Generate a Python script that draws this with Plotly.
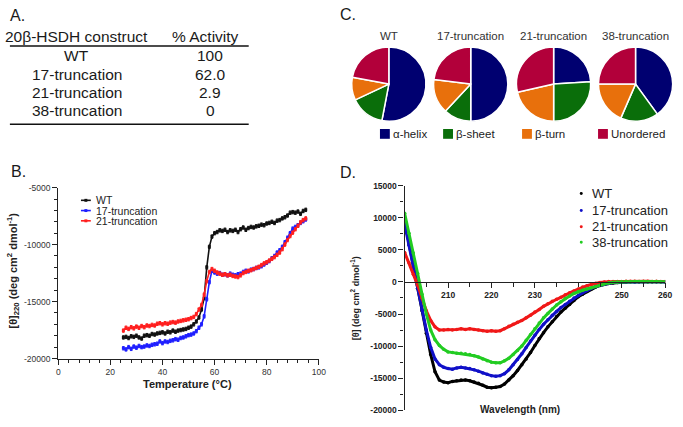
import plotly.graph_objects as go

W, H = 683, 427
FONT = "Liberation Sans, Arial, sans-serif"


def px(x):
    return x / W


def py(y):
    return 1 - y / H


# ---------------- Panel A: activity table ----------------
table_header = ["20β-HSDH construct", "% Activity"]
constructs = ["WT", "17-truncation", "21-truncation", "38-truncation"]
activity = ["100", "62.0", "2.9", "0"]

# ---------------- Panel B: thermal melt at 220 nm ----------------
temp_c = list(range(25, 96))
wt_melt = [-18150, -18100, -18200, -18050, -18100, -18000, -18150, -18250, -18000, -17950,
           -18000, -17850, -17900, -17800, -17750, -17700, -17800, -17650, -17700, -17550,
           -17650, -17550, -17500, -17450, -17400, -17300, -17200, -17000, -16750, -16400,
           -15700, -14700, -12000, -10200, -9300, -9000, -8900, -8750, -8800, -8700,
           -8900, -8750, -8800, -8700, -8900, -8650, -8500, -8700, -8550, -8450,
           -8500, -8400, -8350, -8250, -8300, -8150, -8100, -8000, -8100, -7900,
           -7850, -7700, -7600, -7450, -7200, -7150, -7200, -7100, -7300, -7050,
           -6950]
t17_melt = [-19100, -19200, -19000, -19150, -18950, -19050, -18900, -19000, -18950, -18850,
            -18900, -18800, -18750, -18700, -18500, -18650, -18500, -18550, -18450, -18400,
            -18300, -18350, -18200, -18150, -18050, -17950, -17900, -17800, -17600, -17300,
            -17000, -16300, -14800, -13300, -12300, -12450, -12550, -12500, -12650, -12600,
            -12700, -12550, -12650, -12700, -12600, -12550, -12400, -12300, -12350, -12200,
            -12150, -12050, -12000, -11900, -11750, -11600, -11450, -11200, -11000, -10700,
            -10500, -10200, -9800, -9400, -9000, -8600, -8450, -8300, -8100, -7950,
            -7800]
t21_melt = [-17550, -17300, -17400, -17250, -17350, -17200, -17300, -17150, -17250, -17100,
            -17150, -17050, -17100, -16950, -16900, -17000, -16900, -16950, -16850, -16800,
            -16850, -16750, -16700, -16650, -16600, -16550, -16450, -16350, -16100, -15700,
            -15300, -14400, -13200, -12400, -12150, -12300, -12450, -12550, -12650, -12600,
            -12700, -12650, -12750, -12800, -12850, -12700, -12500, -12400, -12300, -12250,
            -12150, -12050, -11950, -11800, -11650, -11550, -11400, -11250, -11100, -10900,
            -10700, -10400, -10000, -9600, -9250, -8950, -8650, -8350, -8050, -7850,
            -7700]
b_ticks_x = [0, 20, 40, 60, 80, 100]
b_ticks_y = [-20000, -15000, -10000, -5000]

# ---------------- Panel C: secondary structure pies ----------------
pie_titles = ["WT", "17-truncation", "21-truncation", "38-truncation"]
structure_labels = ["α-helix", "β-sheet", "β-turn", "Unordered"]
wt_struct = [53, 15, 10, 22]
t17_struct = [50, 12, 15, 23]
t21_struct = [24, 26, 21.5, 28.5]
t38_struct = [40, 16.5, 18.5, 25]

# ---------------- Panel D: far-UV CD spectra ----------------
wavelength = list(range(200, 261))
wt_cd = [9500, 6000, 2500, -1000, -4500, -8000, -11300, -14000, -15300, -15600,
         -15700, -15500, -15400, -15300, -15300, -15400, -15600, -15800, -16100, -16400,
         -16500, -16400, -16300, -15900, -15300, -14600, -13800, -12900, -12000, -11000,
         -9900, -8800, -7900, -7000, -6200, -5400, -4700, -4100, -3500, -2900,
         -2300, -1900, -1500, -1100, -800, -550, -350, -250, -150, -80,
         -30, 0, 20, 30, 10, 40, 20, 30, 10, 20,
         10]
t17_cd = [9000, 5700, 2300, -1000, -4300, -7500, -10200, -12000, -12900, -13300,
          -13500, -13600, -13400, -13300, -13400, -13500, -13700, -13900, -14200, -14400,
          -14600, -14700, -14600, -14300, -13700, -12900, -12100, -11200, -10200, -9200,
          -8300, -7400, -6600, -5900, -5200, -4600, -4000, -3500, -3000, -2500,
          -2100, -1700, -1300, -1000, -700, -500, -300, -200, -100, -50,
          0, 10, 20, 0, 30, 20, 10, 30, 20, 10,
          0]
t21_cd = [4600, 3000, 1200, -500, -2500, -4500, -6000, -7000, -7500, -7500,
          -7400, -7500, -7400, -7300, -7400, -7300, -7400, -7500, -7600, -7700,
          -7600, -7700, -7600, -7300, -6900, -6600, -6300, -6000, -5600, -5200,
          -4700, -4300, -3800, -3400, -3000, -2700, -2400, -2000, -1700, -1400,
          -1100, -800, -600, -400, -200, -100, 0, 50, 80, 60,
          80, 100, 90, 110, 80, 100, 90, 70, 90, 80,
          60]
t38_cd = [10700, 7600, 4500, 1300, -1900, -5000, -7500, -9000, -9900, -10500,
          -10900, -11000, -11100, -11100, -11200, -11300, -11500, -11700, -12000, -12300,
          -12500, -12600, -12600, -12300, -11900, -11300, -10700, -10000, -9100, -8200,
          -7300, -6400, -5600, -4900, -4200, -3600, -3100, -2600, -2200, -1800,
          -1500, -1300, -1100, -900, -700, -500, -300, -150, -50, 0,
          30, 50, 40, 60, 50, 70, 40, 60, 50, 40,
          30]
d_ticks_x = [210, 220, 230, 250, 260]
d_ticks_y = [-20000, -15000, -10000, -5000, 0, 5000, 10000, 15000]

# ---------------- colours ----------------
pie_colors = ["#000070", "#0a6e0a", "#e8700c", "#b2003a"]
b_colors = ["#111111", "#1f1fff", "#ff1f1f"]
d_colors = ["#000000", "#1010c8", "#f01818", "#22cc22"]

fig = go.Figure()

# ---- Panel B traces ----
b_series = [("WT", wt_melt, b_colors[0]),
            ("17-truncation", t17_melt, b_colors[1]),
            ("21-truncation", t21_melt, b_colors[2])]
for name, vals, col in b_series:
    fig.add_trace(go.Scatter(
        x=temp_c, y=vals, name=name, mode="lines+markers",
        line=dict(color=col, width=1.6),
        marker=dict(color=col, size=3, symbol="square"),
        error_y=dict(type="constant", value=150, color=col, thickness=1, width=1.2),
        xaxis="x", yaxis="y", showlegend=False))

# ---- Panel D traces ----
d_series = [("WT", wt_cd, d_colors[0]),
            ("17-truncation", t17_cd, d_colors[1]),
            ("21-truncation", t21_cd, d_colors[2]),
            ("38-truncation", t38_cd, d_colors[3])]
for name, vals, col in d_series:
    fig.add_trace(go.Scatter(
        x=wavelength, y=vals, name=name, mode="lines+markers",
        line=dict(color=col, width=3),
        marker=dict(color=col, size=3.5),
        xaxis="x2", yaxis="y2", showlegend=False))

# ---- Panel C pies ----
pie_cx = [392, 475, 559, 642]
pie_cy, pie_r = 81, 38
for title, vals, cx in zip(pie_titles,
                           [wt_struct, t17_struct, t21_struct, t38_struct], pie_cx):
    fig.add_trace(go.Pie(
        values=vals, labels=structure_labels, sort=False, direction="clockwise",
        rotation=0, textinfo="none", name=title,
        marker=dict(colors=pie_colors, line=dict(color="white", width=1.5)),
        domain=dict(x=[px(cx - pie_r), px(cx + pie_r)],
                    y=[py(pie_cy + pie_r), py(pie_cy - pie_r)]),
        showlegend=False))

annotations = []
shapes = []


def ann(x, y, text, size, xanchor="center", bold=False, color="#1a1a1a", angle=0):
    annotations.append(dict(
        x=px(x), y=py(y), xref="paper", yref="paper", text=text, showarrow=False,
        xanchor=xanchor, yanchor="middle", textangle=angle, borderpad=0,
        font=dict(family=FONT, size=size, color=color, weight="bold" if bold else "normal")))


# panel letters
ann(7, 11, "A.", 16, xanchor="left")
ann(8, 171, "B.", 16, xanchor="left")
ann(341, 10, "C.", 16, xanchor="left")
ann(341, 172, "D.", 16, xanchor="left")

# ---- Panel A table ----
ann(76, 32, table_header[0], 15.5)
ann(206, 32, table_header[1], 15.5)
row_y = [52, 71, 89.5, 108]
for name, act, yy in zip(constructs, activity, row_y):
    ann(76, yy, name, 15.5)
    ann(211, yy, act, 15.5)
for yy in (42, 122):
    shapes.append(dict(type="line", xref="paper", yref="paper",
                       x0=px(8), x1=px(250), y0=py(yy), y1=py(yy),
                       line=dict(color="#111", width=1.5)))

# ---- Panel C titles and legend ----
for title, cx in zip(pie_titles, pie_cx):
    ann(cx, 31.5, title, 11.5, color="#333")
leg_sq_x = [383, 447, 527, 604]
for lab, col, lx in zip(structure_labels, pie_colors, leg_sq_x):
    shapes.append(dict(type="rect", xref="paper", yref="paper",
                       x0=px(lx), x1=px(lx + 10), y0=py(137), y1=py(127),
                       fillcolor=col, line=dict(width=0)))
    ann(lx + 12, 132, lab, 11.5, xanchor="left", color="#222")

# ---- Panel B legend & titles ----
b_leg_y = [200, 210.5, 221]
for (name, _, col), ly in zip(b_series, b_leg_y):
    shapes.append(dict(type="line", xref="paper", yref="paper",
                       x0=px(80), x1=px(90), y0=py(ly), y1=py(ly),
                       line=dict(color=col, width=1.6)))
    shapes.append(dict(type="rect", xref="paper", yref="paper",
                       x0=px(83.5), x1=px(86.5), y0=py(ly + 1.5), y1=py(ly - 1.5),
                       fillcolor=col, line=dict(width=0)))
    ann(94, ly, name, 10.5, xanchor="left", color="#222")
ann(188, 388, "Temperature (°C)", 11, bold=True, color="#222")
ann(11, 272, "[θ]<sub>220</sub> (deg cm<sup>2</sup> dmol<sup>-1</sup>)", 11,
    bold=True, color="#222", angle=-90)

# ---- Panel D legend & titles ----
d_leg_y = [193, 210.5, 227, 243]
for (name, _, col), ly in zip(d_series, d_leg_y):
    shapes.append(dict(type="circle", xref="paper", yref="paper",
                       x0=px(585.5), x1=px(588.5), y0=py(ly + 1.5), y1=py(ly - 1.5),
                       fillcolor=col, line=dict(width=0)))
    ann(597, ly, name, 13, xanchor="left", color="#222")
ann(525, 414, "Wavelength (nm)", 10, bold=True, color="#222")
ann(358, 300, "[θ] (deg cm<sup>2</sup> dmol<sup>-1</sup>)", 9, bold=True,
    color="#222", angle=-90)

# ---- axes ----
d_ydom = [py(415), py(185)]
d_yrange = [-20000, 15000]
zero_pos = d_ydom[0] + (0 - d_yrange[0]) / (d_yrange[1] - d_yrange[0]) * (d_ydom[1] - d_ydom[0])

axis_common = dict(showgrid=False, zeroline=False, showline=True, linecolor="#222",
                   linewidth=1.3, ticks="outside", tickcolor="#222", tickwidth=1.2,
                   ticklen=5)

fig.update_layout(
    width=W, height=H, margin=dict(l=0, r=0, t=0, b=0),
    paper_bgcolor="white", plot_bgcolor="white",
    font=dict(family=FONT, color="#222"),
    xaxis=dict(domain=[px(57), px(321)], range=[0, 100], anchor="y",
               tickvals=b_ticks_x, ticktext=[str(v) for v in b_ticks_x],
               tickfont=dict(size=8.5, color="#333"),
               minor=dict(dtick=4, tick0=0, ticks="outside", ticklen=3, tickwidth=1,
                          tickcolor="#222"),
               **axis_common),
    yaxis=dict(domain=[py(362), py(187)], range=[-20000, -5000], anchor="x",
               tickvals=b_ticks_y, ticktext=[str(v) for v in b_ticks_y],
               tickfont=dict(size=8.5, color="#333"),
               minor=dict(dtick=1000, tick0=0, ticks="outside", ticklen=3, tickwidth=1,
                          tickcolor="#222"),
               **axis_common),
    xaxis2=dict(domain=[px(408), px(672)], range=[200, 260], anchor="free",
                position=zero_pos,
                tickvals=d_ticks_x, ticktext=[str(v) for v in d_ticks_x],
                tickfont=dict(size=8.5, color="#222", weight="bold"),
                minor=dict(dtick=5, tick0=200, ticks="outside", ticklen=4, tickwidth=1,
                           tickcolor="#222"),
                **axis_common),
    yaxis2=dict(domain=d_ydom, range=d_yrange, anchor="x2",
                tickvals=d_ticks_y, ticktext=[str(v) for v in d_ticks_y],
                tickfont=dict(size=8.5, color="#222", weight="bold"),
                minor=dict(dtick=2500, tick0=0, ticks="outside", ticklen=3, tickwidth=1,
                           tickcolor="#222"),
                **axis_common),
    annotations=annotations,
    shapes=shapes,
)

# remove the browser's default 8px page margin so the figure sits at the window origin
fig.write_html("out.html",
               config={"displayModeBar": False},
               post_script="document.documentElement.style.margin='0';"
                           "document.body.style.margin='0';"
                           "document.body.style.padding='0';")
